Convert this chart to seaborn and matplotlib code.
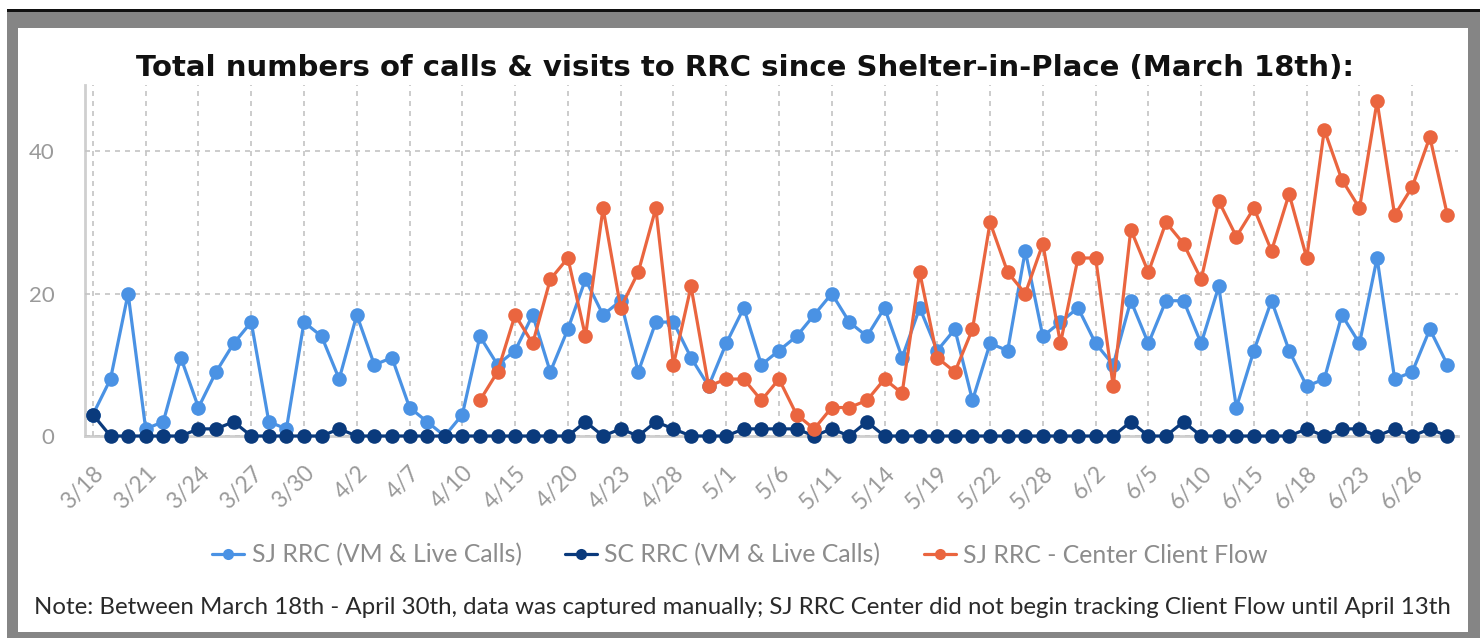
import matplotlib
matplotlib.use("Agg")
import matplotlib.pyplot as plt
from matplotlib.patches import Rectangle
from matplotlib.lines import Line2D
import numpy as np
import pandas as pd
import seaborn as sns

# Reporting days (weekdays once the weekend closures began)
dates = [
    "3/18", "3/19", "3/20", "3/21", "3/22", "3/23", "3/24", "3/25", "3/26", "3/27",
    "3/28", "3/29", "3/30", "3/31", "4/1", "4/2", "4/3", "4/6", "4/7", "4/8",
    "4/9", "4/10", "4/13", "4/14", "4/15", "4/16", "4/17", "4/20", "4/21", "4/22",
    "4/23", "4/24", "4/27", "4/28", "4/29", "4/30", "5/1", "5/4", "5/5", "5/6",
    "5/7", "5/8", "5/11", "5/12", "5/13", "5/14", "5/15", "5/18", "5/19", "5/20",
    "5/21", "5/22", "5/26", "5/27", "5/28", "5/29", "6/1", "6/2", "6/3", "6/4",
    "6/5", "6/8", "6/9", "6/10", "6/11", "6/12", "6/15", "6/16", "6/17", "6/18",
    "6/19", "6/22", "6/23", "6/24", "6/25", "6/26", "6/29", "6/30",
]

sj_calls = [
    3, 8, 20, 1, 2, 11, 4, 9, 13, 16,
    2, 1, 16, 14, 8, 17, 10, 11, 4, 2,
    0, 3, 14, 10, 12, 17, 9, 15, 22, 17,
    19, 9, 16, 16, 11, 7, 13, 18, 10, 12,
    14, 17, 20, 16, 14, 18, 11, 18, 12, 15,
    5, 13, 12, 26, 14, 16, 18, 13, 10, 19,
    13, 19, 19, 13, 21, 4, 12, 19, 12, 7,
    8, 17, 13, 25, 8, 9, 15, 10,
]

sc_calls = [
    3, 0, 0, 0, 0, 0, 1, 1, 2, 0,
    0, 0, 0, 0, 1, 0, 0, 0, 0, 0,
    0, 0, 0, 0, 0, 0, 0, 0, 2, 0,
    1, 0, 2, 1, 0, 0, 0, 1, 1, 1,
    1, 0, 1, 0, 2, 0, 0, 0, 0, 0,
    0, 0, 0, 0, 0, 0, 0, 0, 0, 2,
    0, 0, 2, 0, 0, 0, 0, 0, 0, 1,
    0, 1, 1, 0, 1, 0, 1, 0,
]

# Client flow tracking starts on 4/13
sj_center = [np.nan] * 22 + [
    5, 9, 17, 13, 22, 25, 14, 32, 18, 23,
    32, 10, 21, 7, 8, 8, 5, 8, 3, 1,
    4, 4, 5, 8, 6, 23, 11, 9, 15, 30,
    23, 20, 27, 13, 25, 25, 7, 29, 23, 30,
    27, 22, 33, 28, 32, 26, 34, 25, 43, 36,
    32, 47, 31, 35, 42, 31,
]

series_names = ["SJ RRC (VM & Live Calls)", "SC RRC (VM & Live Calls)", "SJ RRC - Center Client Flow"]
series_values = [sj_calls, sc_calls, sj_center]
series_colors = ["#4a92e4", "#0a3a7c", "#ea653f"]

pos = np.arange(len(dates))
df = pd.concat(
    [pd.DataFrame({"pos": pos, "value": vals, "series": name})
     for name, vals in zip(series_names, series_values)],
    ignore_index=True,
)

sns.set_theme(style="white")
plt.rcParams["font.family"] = ["Lato", "DejaVu Sans"]

W, H = 1480, 638
fig = plt.figure(figsize=(W / 100, H / 100), dpi=100, facecolor="white")

# Framing: grey border with dark top edge around a white panel
fig.patches.append(Rectangle((7 / W, 0), 1 - 7 / W, 1 - 10 / H, transform=fig.transFigure,
                             facecolor="#858585", edgecolor="none", zorder=-3))
fig.patches.append(Rectangle((7 / W, 1 - 12 / H), 1 - 7 / W, 3 / H, transform=fig.transFigure,
                             facecolor="#111111", edgecolor="none", zorder=-2))
fig.patches.append(Rectangle((18 / W, 6 / H), 1450 / W, 604 / H, transform=fig.transFigure,
                             facecolor="white", edgecolor="none", zorder=-1))

ax = fig.add_axes([85 / W, 1 - 436 / H, (1458 - 85) / W, (436 - 85) / H])
ax.set_facecolor("none")

for name, color in zip(series_names, series_colors):
    sub = df[df["series"] == name]
    sns.lineplot(data=sub, x="pos", y="value", color=color, marker="o", markersize=10.5,
                 markeredgewidth=0, linewidth=2.3, ax=ax, clip_on=False, legend=False)

ax.set_xlim(-0.45, len(dates) - 1 + 0.6)
ax.set_ylim(0, 49.3)
ax.set_xlabel("")
ax.set_ylabel("")

tick_pos = pos[::3]
ax.set_xticks(tick_pos)
ax.set_xticklabels([dates[i] for i in tick_pos], rotation=45, ha="right",
                   rotation_mode="anchor", color="#9a9a9a", fontsize=16.5)
ax.set_yticks([0, 20, 40])
ax.set_yticklabels(["0", "20", "40"], color="#9a9a9a", fontsize=16)
ax.tick_params(axis="both", length=0)
ax.tick_params(axis="x", pad=19)
ax.tick_params(axis="y", pad=22)

ax.grid(True, axis="both", color="#c4c4c4", linestyle=(0, (3, 3)), linewidth=1.2)
for side in ["top", "right"]:
    ax.spines[side].set_visible(False)
for side in ["left", "bottom"]:
    ax.spines[side].set_color("#cfcfcf")
    ax.spines[side].set_linewidth(2)
    ax.spines[side].set_zorder(0.5)

fig.text(745 / W, 1 - 68 / H,
         "Total numbers of calls & visits to RRC since Shelter-in-Place (March 18th):",
         ha="center", va="center", fontsize=21, fontweight="bold", color="#111111",
         family=["DejaVu Sans"])

handles = [Line2D([0], [0], color=c, marker="o", markersize=8, markeredgewidth=0, linewidth=2.3)
           for c in series_colors]
fig.legend(handles, series_names, loc="center", bbox_to_anchor=(740 / W, 1 - 555 / H), ncol=3,
           frameon=False, fontsize=17.8, labelcolor="#8c8c8c", handlelength=1.3,
           handletextpad=0.3, columnspacing=1.75)

fig.text(742 / W, 1 - 608 / H,
         "Note: Between March 18th - April 30th, data was captured manually; "
         "SJ RRC Center did not begin tracking Client Flow until April 13th",
         ha="center", va="center", fontsize=17.3, color="#2a2a2a")

fig.savefig("out.png", dpi=100, facecolor=fig.get_facecolor())
